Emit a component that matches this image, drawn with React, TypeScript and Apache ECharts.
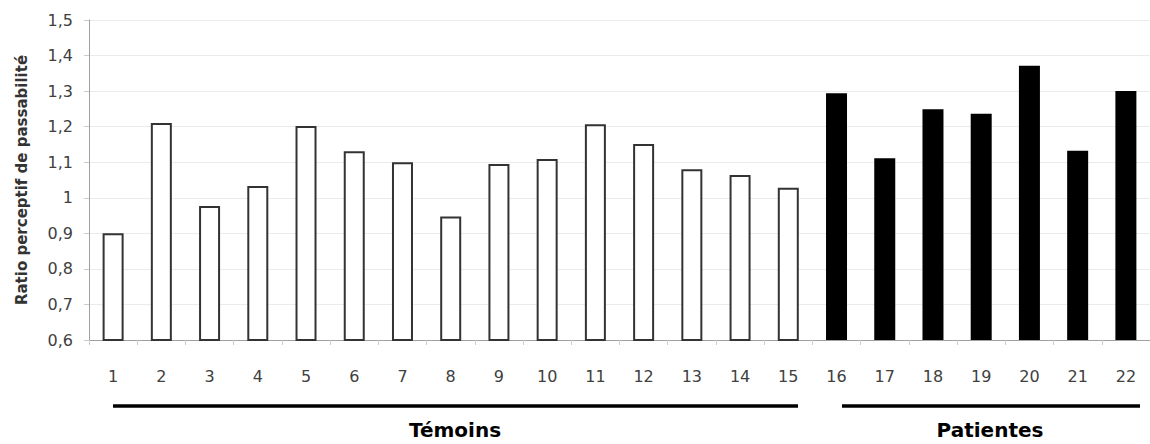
import React, { useEffect, useRef } from "react";
import * as echarts from "echarts";

const categories = ["1","2","3","4","5","6","7","8","9","10","11","12","13","14","15","16","17","18","19","20","21","22"];
const temoinsValues = [0.9, 1.21, 0.977, 1.033, 1.202, 1.131, 1.1, 0.947, 1.095, 1.109, 1.207, 1.151, 1.08, 1.064, 1.028];
const patientesValues = [1.294, 1.111, 1.249, 1.236, 1.371, 1.132, 1.3];
const yAxisTitle = "Ratio perceptif de passabilité";
const groupLabels = ["Témoins", "Patientes"];

const FONT = "DejaVu Sans";

export default function App() {
  const ref = useRef<HTMLDivElement>(null);
  useEffect(() => {
    document.body.style.margin = "0";
    if (!ref.current) return;
    const chart = echarts.init(ref.current, null, { renderer: "svg" });
    const data = [
      ...temoinsValues.map((v) => ({
        value: v,
        itemStyle: { color: "#ffffff", borderColor: "#333333", borderWidth: 2 },
      })),
      ...patientesValues.map((v) => ({
        value: v,
        itemStyle: { color: "#000000", borderColor: "#000000", borderWidth: 0 },
      })),
    ];
    chart.setOption({
      animation: false,
      backgroundColor: "#ffffff",
      textStyle: { fontFamily: FONT },
      grid: { left: 89, top: 20, height: 320, width: 1066 },
      xAxis: {
        type: "category",
        data: categories,
        axisLine: { lineStyle: { color: "#a0a0a0", width: 1 } },
        axisTick: { show: true, length: 5, lineStyle: { color: "#cccccc" } },
        axisLabel: { color: "#404040", fontSize: 16, fontFamily: FONT, margin: 28, interval: 0 },
      },
      yAxis: {
        type: "value",
        min: 0.6,
        max: 1.5,
        interval: 0.1,
        name: yAxisTitle,
        nameLocation: "middle",
        nameRotate: 90,
        nameGap: 60,
        nameTextStyle: { color: "#333333", fontSize: 15, fontWeight: "bold", fontFamily: FONT },
        axisLine: { show: true, lineStyle: { color: "#a0a0a0", width: 1 } },
        axisTick: { show: true, length: 5, lineStyle: { color: "#cccccc" } },
        axisLabel: {
          color: "#404040",
          fontSize: 16,
          fontFamily: FONT,
          margin: 16,
          formatter: (v: number) => String(Number(v.toFixed(1))).replace(".", ","),
        },
        splitLine: { show: true, lineStyle: { color: "#ebebeb", width: 1 } },
      },
      series: [
        {
          type: "bar",
          data,
          barWidth: 21,
        },
      ],
      graphic: [
        { type: "line", shape: { x1: 113, y1: 406, x2: 798, y2: 406 }, style: { stroke: "#000", lineWidth: 3.5 } },
        { type: "line", shape: { x1: 842, y1: 406, x2: 1140, y2: 406 }, style: { stroke: "#000", lineWidth: 3.5 } },
        {
          type: "text",
          x: 455,
          y: 430,
          style: { text: groupLabels[0], fill: "#000", font: `bold 20px "${FONT}"`, textAlign: "center", textVerticalAlign: "middle" },
        },
        {
          type: "text",
          x: 990,
          y: 430,
          style: { text: groupLabels[1], fill: "#000", font: `bold 20px "${FONT}"`, textAlign: "center", textVerticalAlign: "middle" },
        },
      ],
    });
    return () => chart.dispose();
  }, []);
  return <div ref={ref} style={{ width: 1150, height: 444 }} />;
}
